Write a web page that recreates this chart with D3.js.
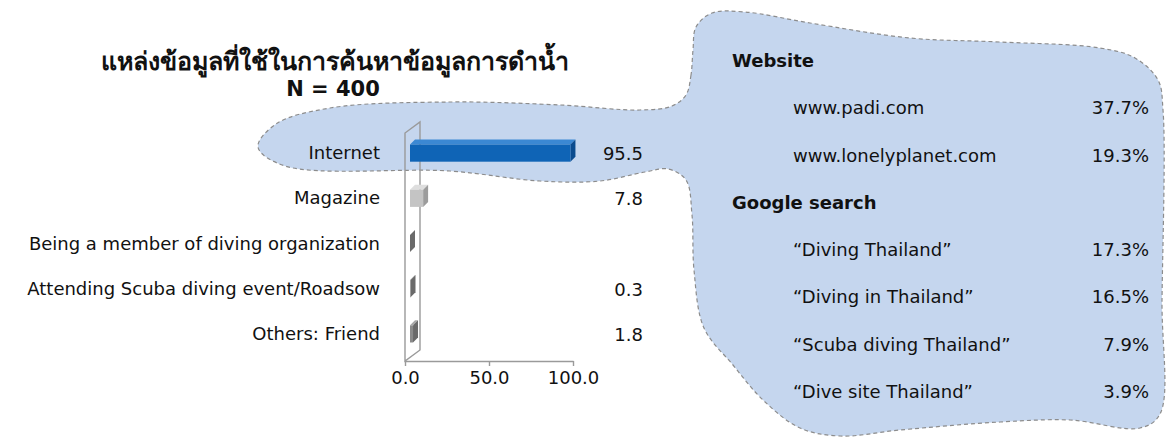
<!DOCTYPE html>
<html><head><meta charset="utf-8">
<script src="https://cdn.jsdelivr.net/npm/d3@7"></script>
<style>body{margin:0;background:#fff}svg{display:block}</style>
</head><body>
<svg id="c" width="1171" height="445"></svg>
<script>
// ---- data ----
const titleLines = ["แหล่งข้อมูลที่ใช้ในการค้นหาข้อมูลการดำน้ำ", "N = 400"];
const categories = ["Internet", "Magazine", "Being a member of diving organization", "Attending Scuba diving event/Roadsow", "Others: Friend"];
const values = [95.5, 7.8, 0, 0.3, 1.8];
const valueLabels = ["95.5", "7.8", "", "0.3", "1.8"];
const xTicks = [0, 50, 100];
const detailItems = ["Website", "www.padi.com", "www.lonelyplanet.com", "Google search", "\u201CDiving Thailand\u201D", "\u201CDiving in Thailand\u201D", "\u201CScuba diving Thailand\u201D", "\u201CDive site Thailand\u201D"];
const detailIsHeader = [true, false, false, true, false, false, false, false];
const detailValues = [null, 37.7, 19.3, null, 17.3, 16.5, 7.9, 3.9];

// ---- setup ----
const svg = d3.select("#c");
const FONT = "'DejaVu Sans', Verdana, sans-serif";

// callout blob (decorative shape)
const blobPts = [
  [693,50],[691,75],[686,95],[672,106],[640,110],[560,105],[450,102],[330,108],[276,124],[258,147],
  [285,166],[450,171],[540,181],[600,181],[645,172],[668,169],[686,180],[692,215],[694,270],[704,328],
  [733,365],[763,400],[800,428],[840,436],[900,430],[1000,422],[1070,420],[1140,428],[1160,414],
  [1162,300],[1163,110],[1158,80],[1135,58],[1100,48],[1000,42],[910,38],[810,23],[745,12],[712,13],[696,27]
];
svg.append("path")
  .attr("d", d3.line().curve(d3.curveCatmullRomClosed.alpha(0.5))(blobPts))
  .attr("fill", "#c5d6ee")
  .attr("stroke", "#8c8c8c")
  .attr("stroke-width", 1.2)
  .attr("stroke-dasharray", "4,3");

// title
const tg = svg.append("g").attr("font-family", FONT).attr("font-weight", "bold").attr("fill", "#111").attr("text-anchor", "middle");
tg.append("text").attr("x", 335).attr("y", 70).attr("font-size", 25).text(titleLines[0]);
tg.append("text").attr("x", 333).attr("y", 96).attr("font-size", 21).text(titleLines[1]);

// scales
const x = d3.scaleLinear().domain([0, 100]).range([405, 573]);
const y = d3.scaleBand().domain(categories).range([130, 356]);
const axisY = 361;
const wallDx = 15, wallDy = -11;   // depth of chart floor/wall
const barDx = 5, barDy = -5;       // depth of a bar

// back wall (thin 3D side wall)
const wallTop = y.range()[0] + 3;
svg.append("path")
  .attr("d", `M${x(0)},${axisY}L${x(0)},${wallTop}L${x(0)+wallDx},${wallTop+wallDy}L${x(0)+wallDx},${axisY+wallDy}Z`)
  .attr("fill", "none").attr("stroke", "#9a9a9a").attr("stroke-width", 1.4);

// axis
const ax = svg.append("g").attr("transform", `translate(0,${axisY})`)
  .call(d3.axisBottom(x).tickValues(xTicks).tickFormat(d3.format(".1f")).tickSize(5).tickSizeOuter(0));
ax.select(".domain").attr("stroke", "#9a9a9a").attr("stroke-width", 1.4);
ax.selectAll(".tick line").attr("stroke", "#9a9a9a").attr("stroke-width", 1.4);
ax.selectAll(".tick text").attr("font-family", FONT).attr("font-size", 18).attr("fill", "#111").attr("y", 23).attr("dy", 0);

// bars
const palette = [
  {front: "#0f64b6", top: "#3b88d3", side: "#0a4b8e"},
  {front: "#c4c4c4", top: "#dedede", side: "#9c9c9c"},
  {front: "#8a8a8a", top: "#a8a8a8", side: "#6a6a6a"},
  {front: "#8a8a8a", top: "#a8a8a8", side: "#6a6a6a"},
  {front: "#8a8a8a", top: "#a8a8a8", side: "#6a6a6a"}
];
const bh = y.bandwidth() * 0.38;
const bars = svg.append("g");
categories.forEach((c, i) => {
  const cy = y(c) + y.bandwidth() / 2 + 0.5;
  const x0 = x(0) + barDx, x1 = x(values[i]) + barDx;
  const y0 = cy - bh / 2, y1 = cy + bh / 2;
  const col = palette[i];
  bars.append("path").attr("d", `M${x0},${y0}L${x0+barDx},${y0+barDy}L${x1+barDx},${y0+barDy}L${x1},${y0}Z`).attr("fill", col.top);
  bars.append("path").attr("d", `M${x1},${y0}L${x1+barDx},${y0+barDy}L${x1+barDx},${y1+barDy}L${x1},${y1}Z`).attr("fill", col.side);
  bars.append("rect").attr("x", x0).attr("y", y0).attr("width", Math.max(0, x1 - x0)).attr("height", bh).attr("fill", col.front);
});

// category labels
svg.append("g").attr("font-family", FONT).attr("font-size", 18).attr("fill", "#111").attr("text-anchor", "end")
  .selectAll("text").data(categories).join("text")
  .attr("x", 380).attr("y", d => y(d) + y.bandwidth() / 2 + 6.5).text(d => d);

// value labels
svg.append("g").attr("font-family", FONT).attr("font-size", 18).attr("fill", "#111").attr("text-anchor", "end")
  .selectAll("text").data(categories).join("text")
  .attr("x", 643).attr("y", d => y(d) + y.bandwidth() / 2 + 7.5).text((d, i) => valueLabels[i]);

// detail list (right)
const rowY = d3.scalePoint().domain(d3.range(detailItems.length)).range([67, 398]);
const dg = svg.append("g").attr("font-family", FONT).attr("font-size", 18).attr("fill", "#111");
detailItems.forEach((t, i) => {
  dg.append("text").attr("x", detailIsHeader[i] ? 732 : 793).attr("y", rowY(i))
    .attr("font-weight", detailIsHeader[i] ? "bold" : "normal").text(t);
  if (detailValues[i] != null)
    dg.append("text").attr("x", 1149).attr("y", rowY(i)).attr("text-anchor", "end").text(d3.format(".1f")(detailValues[i]) + "%");
});
</script>
</body></html>
